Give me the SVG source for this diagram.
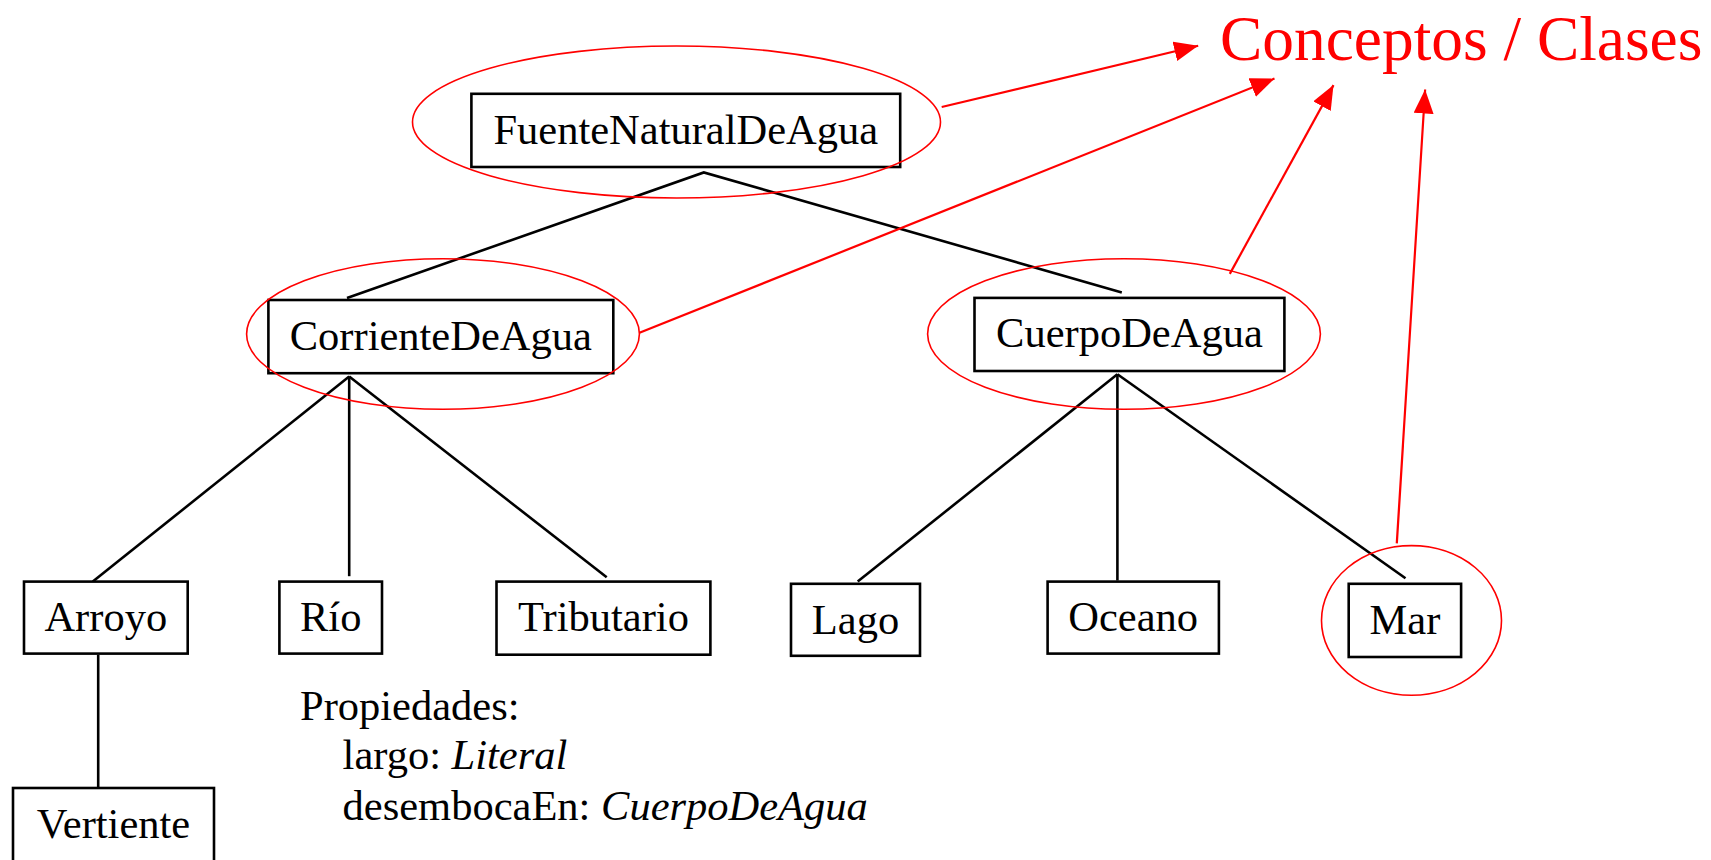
<svg xmlns="http://www.w3.org/2000/svg" width="1711" height="860" viewBox="0 0 1711 860">
<style>
.box{fill:#fff;stroke:#000;stroke-width:2.6}
.t{font-family:"Liberation Serif","Times New Roman",serif;font-size:42.5px;fill:#000;text-anchor:middle}
.p{font-family:"Liberation Serif","Times New Roman",serif;font-size:42.5px;fill:#000}
.e{fill:none;stroke:#f00;stroke-width:1.6}
.tree{stroke:#000;stroke-width:2.6;fill:none}
.ra{stroke:#f00;stroke-width:2.2;fill:none;marker-end:url(#ah)}
</style>
<defs>
<marker id="ah" markerUnits="userSpaceOnUse" markerWidth="26" markerHeight="22" refX="24" refY="10" orient="auto">
<path d="M0,0 L24,10 L0,20 Z" fill="#f00"/>
</marker>
</defs>
<rect width="1711" height="860" fill="#fff"/>
<g id="connectors">
<polyline class="tree" points="347,298 703.8,172.4 1121.8,292.4"/>
<line class="tree" x1="349.2" y1="376.5" x2="92.8" y2="581.6"/>
<line class="tree" x1="349.2" y1="376.5" x2="349.2" y2="576.2"/>
<line class="tree" x1="349.2" y1="376.5" x2="606.7" y2="577.3"/>
<line class="tree" x1="1117.4" y1="374.3" x2="857.7" y2="581.6"/>
<line class="tree" x1="1117.4" y1="374.3" x2="1117.4" y2="580.5"/>
<line class="tree" x1="1117.4" y1="374.3" x2="1405.5" y2="578.3"/>
<line class="tree" x1="98.2" y1="654.7" x2="98.2" y2="790"/>
<line class="ra" x1="941.7" y1="107" x2="1198.2" y2="45.8"/>
<line class="ra" x1="639.5" y1="332.8" x2="1274.5" y2="78.6"/>
<line class="ra" x1="1229.8" y1="273.9" x2="1333.5" y2="85.1"/>
<line class="ra" x1="1396.8" y1="543.4" x2="1425.1" y2="89.5"/>
</g>
<g id="n-fuente">
<rect class="box" x="471.4" y="93.8" width="428.8" height="73.2"/>
<text class="t" x="685.8" y="144">FuenteNaturalDeAgua</text>
<ellipse class="e" cx="676.5" cy="122" rx="264" ry="76"/>
</g>
<g id="n-corriente">
<rect class="box" x="268.4" y="300" width="344.9" height="73.2"/>
<text class="t" x="440.8" y="350">CorrienteDeAgua</text>
<ellipse class="e" cx="443" cy="334" rx="196.4" ry="75.3"/>
</g>
<g id="n-cuerpo">
<rect class="box" x="974.5" y="297.9" width="309.9" height="73.1"/>
<text class="t" x="1129.4" y="347">CuerpoDeAgua</text>
<ellipse class="e" cx="1124" cy="334" rx="196.4" ry="75.3"/>
</g>
<g id="n-arroyo">
<rect class="box" x="24" y="581.6" width="163.7" height="72"/>
<text class="t" x="105.8" y="631">Arroyo</text>
</g>
<g id="n-rio">
<rect class="box" x="279.4" y="581.6" width="102.6" height="72"/>
<text class="t" x="330.7" y="631">Río</text>
</g>
<g id="n-tributario">
<rect class="box" x="496.5" y="581.6" width="213.9" height="73.1"/>
<text class="t" x="603.5" y="631">Tributario</text>
</g>
<g id="n-lago">
<rect class="box" x="791" y="583.8" width="129" height="72"/>
<text class="t" x="855.5" y="634">Lago</text>
</g>
<g id="n-oceano">
<rect class="box" x="1047.6" y="581.6" width="171.3" height="72"/>
<text class="t" x="1133.2" y="631">Oceano</text>
</g>
<g id="n-mar">
<rect class="box" x="1348.7" y="583.8" width="112.4" height="73.2"/>
<text class="t" x="1404.9" y="634">Mar</text>
<ellipse class="e" cx="1411.5" cy="620.4" rx="90" ry="74.8"/>
</g>
<g id="n-vertiente">
<rect class="box" x="13" y="788" width="201" height="90"/>
<text class="t" x="113.5" y="838">Vertiente</text>
</g>
<g id="propiedades">
<text class="p" x="300" y="720">Propiedades:</text>
<text class="p" x="342.6" y="769">largo: <tspan font-style="italic">Literal</tspan></text>
<text class="p" x="342.6" y="820">desembocaEn: <tspan font-style="italic">CuerpoDeAgua</tspan></text>
</g>
<g id="label-conceptos">
<text x="1220" y="60" font-family="'Liberation Serif','Times New Roman',serif" font-size="63.4" fill="#f00">Conceptos / Clases</text>
</g>
</svg>
